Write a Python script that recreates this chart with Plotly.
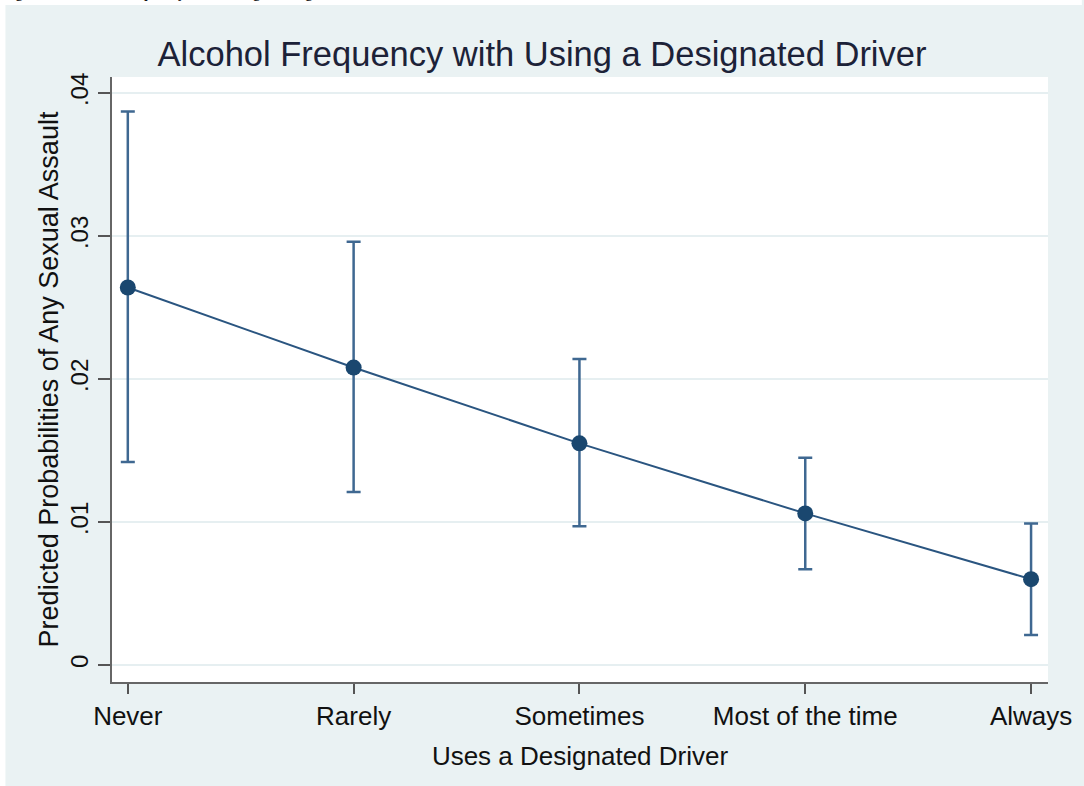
import plotly.graph_objects as go

# Predicted probabilities with 95% confidence limits by designated-driver use
categories = ["Never", "Rarely", "Sometimes", "Most of the time", "Always"]
predicted = [0.0264, 0.0208, 0.0155, 0.0106, 0.0060]
ci_upper = [0.0387, 0.0296, 0.0214, 0.0145, 0.0099]
ci_lower = [0.0142, 0.0121, 0.0097, 0.0067, 0.0021]
y_ticks = [0, 0.01, 0.02, 0.03, 0.04]
y_tick_labels = ["0", ".01", ".02", ".03", ".04"]

x_idx = list(range(len(categories)))
err_plus = [u - p for u, p in zip(ci_upper, predicted)]
err_minus = [p - l for p, l in zip(predicted, ci_lower)]

NAVY = "#1A476F"
CI_COLOR = "#3F6891"
BG = "#EAF2F3"

W, H = 1084, 786
L, R, T, B = 112, 32, 77, 104
pw, ph = W - L - R, H - T - B


def px_x(p):
    return (p - L) / pw


def px_y(p):
    return (H - B - p) / ph


fig = go.Figure()

# confidence interval caps
fig.add_trace(go.Scatter(
    x=x_idx, y=predicted, mode="markers",
    marker=dict(size=0.1, color="rgba(0,0,0,0)"),
    error_y=dict(type="data", symmetric=False, array=err_plus, arrayminus=err_minus,
                 color=CI_COLOR, thickness=2.5, width=7),
    hoverinfo="skip", showlegend=False,
))

# connected point estimates
fig.add_trace(go.Scatter(
    x=x_idx, y=predicted, mode="lines+markers",
    line=dict(color="#2A5580", width=2),
    marker=dict(size=16, color=NAVY),
    showlegend=False,
))

fig.update_layout(
    width=W, height=H,
    margin=dict(l=L, r=R, t=T, b=B),
    paper_bgcolor=BG,
    plot_bgcolor="white",
    font=dict(family="Liberation Sans, Arial, sans-serif", color="#111111"),
    title=dict(
        text="Alcohol Frequency with Using a Designated Driver",
        x=542 / W, xref="container", xanchor="center",
        y=1 - 54 / H, yref="container", yanchor="middle",
        font=dict(size=34.5, color="#1c2238"),
    ),
    xaxis=dict(
        range=[-0.07, 4.075],
        tickmode="array", tickvals=x_idx, ticktext=categories,
        tickfont=dict(size=26, color="#111111"),
        ticks="outside", ticklen=10, tickwidth=2, tickcolor="#555555",
        showline=True, linecolor="#666666", linewidth=2,
        showgrid=False, zeroline=False,
        title=dict(text="Uses a Designated Driver", font=dict(size=26, color="#111111"), standoff=17),
    ),
    yaxis=dict(
        range=[-0.00119, 0.04112],
        tickmode="array", tickvals=y_ticks, ticktext=y_tick_labels,
        tickangle=-90,
        tickfont=dict(size=24, color="#111111"),
        ticks="outside", ticklen=12, tickwidth=2, tickcolor="#555555",
        showline=True, linecolor="#666666", linewidth=2,
        showgrid=True, gridcolor="#E6EFF1", gridwidth=1.5,
        zeroline=False,
        title=dict(text="Predicted Probabilities of Any Sexual Assault",
                   font=dict(size=27, color="#111111"), standoff=0),
    ),
    shapes=[
        # white page strips along the top and left edges
        dict(type="rect", xref="paper", yref="paper", layer="below",
             x0=px_x(-2), x1=px_x(W + 2), y0=px_y(5), y1=px_y(-2),
             fillcolor="white", line=dict(width=0)),
        dict(type="rect", xref="paper", yref="paper", layer="below",
             x0=px_x(-2), x1=px_x(5), y0=px_y(H + 2), y1=px_y(-2),
             fillcolor="white", line=dict(width=0)),
    ],
    annotations=[
        dict(text="Figure 3. Alcohol Frequency with Using a Designated Driver",
             xref="paper", yref="paper", x=px_x(0), y=px_y(3.5),
             xanchor="left", yanchor="bottom", showarrow=False,
             font=dict(family="Liberation Serif, Times New Roman, serif", size=16, color="black")),
    ],
)

fig.write_html("out.html")
